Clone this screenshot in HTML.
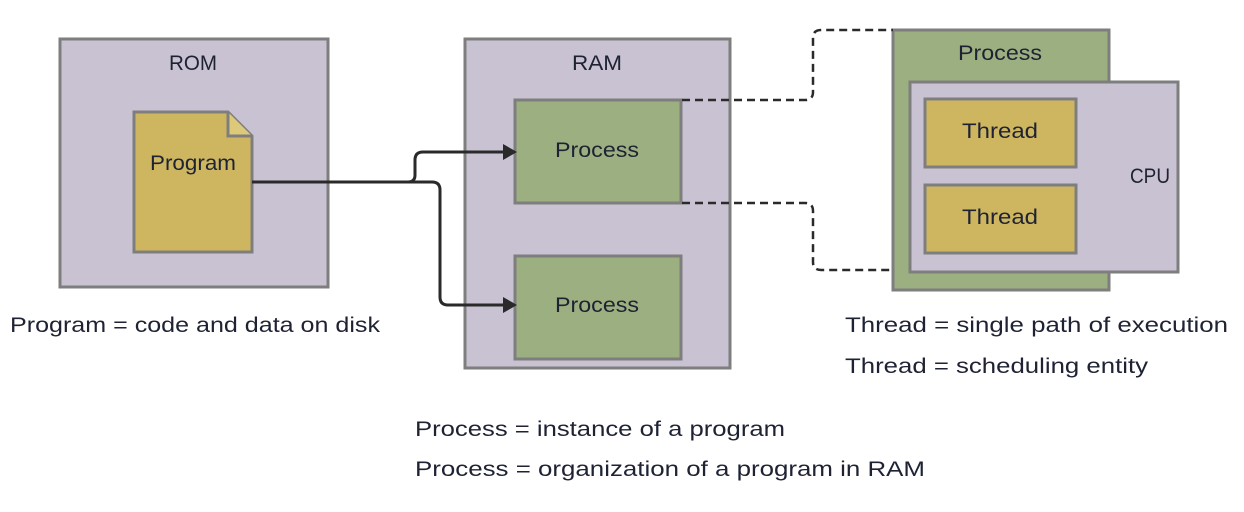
<!DOCTYPE html>
<html><head><meta charset="utf-8"><style>
body{margin:0;background:#fff;width:1244px;height:507px;overflow:hidden}
svg text{font-family:"Liberation Sans",sans-serif;fill:#1e2233}
</style></head><body>
<svg width="1244" height="507" viewBox="0 0 1244 507" xmlns="http://www.w3.org/2000/svg">
<g stroke="#7e7e7e" stroke-width="3">
<rect x="60" y="39" width="268" height="248" fill="#c8c2d2"/>
<path d="M134 112 H228 L252 136 V252 H134 Z" fill="#cdb65f"/>
<path d="M228 112 V136 H252" fill="#dcc97a"/>
<rect x="465" y="39" width="265" height="329" fill="#c8c2d2"/>
<rect x="515" y="100" width="166" height="103" fill="#9caf80"/>
<rect x="515" y="256" width="166" height="103" fill="#9caf80"/>
<rect x="893" y="30" width="216" height="260" fill="#9caf80"/>
<rect x="910" y="82" width="268" height="190" fill="#c8c2d2"/>
<rect x="925" y="99" width="151" height="68" fill="#cdb65f"/>
<rect x="925" y="185" width="151" height="68" fill="#cdb65f"/>
</g>
<g fill="none" stroke="#2a2a2a" stroke-width="3">
<path d="M252 182 H408 Q415 182 415 175 V160 Q415 152 423 152 H505"/>
<path d="M408 182 H432 Q440 182 440 190 V297 Q440 305 448 305 H505"/>
</g>
<path d="M517 152 L503 144 V160 Z M517 305 L503 297 V313 Z" fill="#2a2a2a"/>
<g fill="none" stroke="#2a2a2a" stroke-width="2.5" stroke-dasharray="8 5">
<path d="M682 100 H805 Q813 100 813 92 V38 Q813 30 821 30 H893"/>
<path d="M682 203 H805 Q813 203 813 211 V262 Q813 270 821 270 H893"/>
</g>
<g font-size="21" text-anchor="middle" lengthAdjust="spacingAndGlyphs">
<text x="193" y="70" textLength="48" lengthAdjust="spacingAndGlyphs">ROM</text>
<text x="193" y="170" textLength="86" lengthAdjust="spacingAndGlyphs">Program</text>
<text x="597" y="70" textLength="50" lengthAdjust="spacingAndGlyphs">RAM</text>
<text x="597" y="157" textLength="84" lengthAdjust="spacingAndGlyphs">Process</text>
<text x="597" y="312" textLength="84" lengthAdjust="spacingAndGlyphs">Process</text>
<text x="1000" y="60" textLength="84" lengthAdjust="spacingAndGlyphs">Process</text>
<text x="1000" y="138" textLength="76" lengthAdjust="spacingAndGlyphs">Thread</text>
<text x="1000" y="224" textLength="76" lengthAdjust="spacingAndGlyphs">Thread</text>
<text x="1150" y="183" textLength="40" lengthAdjust="spacingAndGlyphs">CPU</text>
</g>
<g font-size="21">
<text x="10" y="332" textLength="370" lengthAdjust="spacingAndGlyphs">Program = code and data on disk</text>
<text x="415" y="436" textLength="370" lengthAdjust="spacingAndGlyphs">Process = instance of a program</text>
<text x="415" y="476" textLength="510" lengthAdjust="spacingAndGlyphs">Process = organization of a program in RAM</text>
<text x="845" y="332" textLength="383" lengthAdjust="spacingAndGlyphs">Thread = single path of execution</text>
<text x="845" y="373" textLength="303" lengthAdjust="spacingAndGlyphs">Thread = scheduling entity</text>
</g>
</svg>
</body></html>
